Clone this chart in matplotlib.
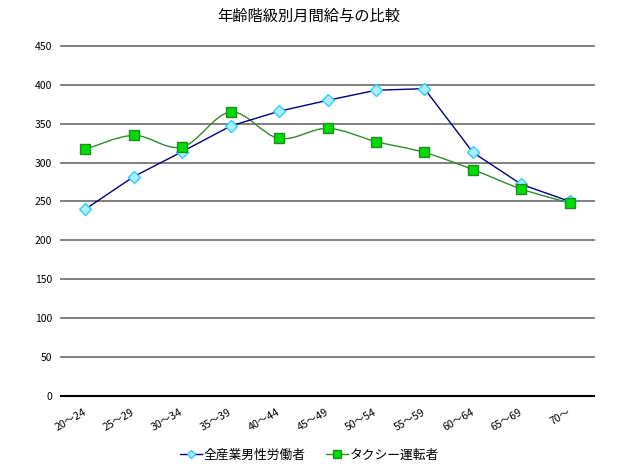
import numpy as np
import matplotlib
matplotlib.use("Agg")
import matplotlib.pyplot as plt
import matplotlib.transforms as mtransforms
from matplotlib.path import Path
from matplotlib.patches import PathPatch
from matplotlib.lines import Line2D

plt.rcParams['font.family'] = ['Noto Sans CJK JP', 'DejaVu Sans']

ages = ["20〜24", "25〜29", "30〜34", "35〜39", "40〜44", "45〜49",
        "50〜54", "55〜59", "60〜64", "65〜69", "70〜"]
allWorkers = [240, 282, 314, 347, 366, 380, 393, 395, 313, 272, 250]
taxiDrivers = [317, 335, 320, 365, 331, 344, 327, 313, 291, 266, 248]
seriesNames = ["全産業男性労働者", "タクシー運転者"]
yTicks = [0, 50, 100, 150, 200, 250, 300, 350, 400, 450]

blueLine = "#000080"
blueFace = "#aaf0ff"
blueEdge = "#33ccff"
greenLine = "#2e8b2e"
greenFace = "#00dd00"
greenEdge = "#228b22"


def smoothPath(xs, ys):
    # excel style smoothed line as cubic bezier segments
    pts = np.column_stack([xs, ys]).astype(float)
    n = len(pts)
    verts = [pts[0]]
    codes = [Path.MOVETO]
    for i in range(n - 1):
        p0 = pts[max(i - 1, 0)]
        p1 = pts[i]
        p2 = pts[i + 1]
        p3 = pts[min(i + 2, n - 1)]
        c1 = p1 + (p2 - p0) / 6.0
        c2 = p2 - (p3 - p1) / 6.0
        verts += [c1, c2, p2]
        codes += [Path.CURVE4] * 3
    return Path(verts, codes)


fig = plt.figure(figsize=(6.4, 4.7), dpi=100)
ax = fig.add_axes([0.0953, 0.1574, 0.833, 0.745])

x = np.arange(len(ages))
for t in yTicks[1:]:
    ax.axhline(t, color="#808080", lw=1.4, zorder=1, clip_on=False)
ax.axhline(0, color="black", lw=1.5, zorder=1, clip_on=False)

ax.plot(x, allWorkers, color=blueLine, lw=1, marker="D", ms=6.3,
        mfc=blueFace, mec=blueEdge, mew=1, zorder=3, clip_on=False)

ax.add_patch(PathPatch(smoothPath(x, taxiDrivers), facecolor="none",
                       edgecolor=greenLine, lw=1, zorder=2))
ax.plot(x, taxiDrivers, ls="none", marker="s", ms=6.6,
        mfc=greenFace, mec=greenEdge, mew=1, zorder=4, clip_on=False)

ax.set_xlim(-0.5, 10.5)
ax.set_ylim(0, 450)
ax.set_yticks(yTicks)
ax.set_xticks(x)
ax.set_xticklabels(ages, rotation=30, ha="right", va="center",
                   rotation_mode="anchor", fontsize=7.6)
shift = mtransforms.ScaledTranslation(-2 / 100, 0, fig.dpi_scale_trans)
for lab in ax.get_xticklabels():
    lab.set_transform(lab.get_transform() + shift)
ax.tick_params(axis="y", labelsize=7.5, length=0, pad=6.5)
ax.tick_params(axis="x", length=0, pad=11)
for s in ax.spines.values():
    s.set_visible(False)

fig.text(0.483, 0.965, "年齢階級別月間給与の比較", fontsize=11,
         ha="center", va="center")

handles = [
    Line2D([], [], color=blueLine, lw=1, marker="D", ms=4.5, mfc=blueFace, mec=blueEdge),
    Line2D([], [], color=greenLine, lw=1, marker="s", ms=5.5, mfc=greenFace, mec=greenEdge),
]
fig.legend(handles, seriesNames, loc="center", ncol=2, frameon=False,
           fontsize=9.2, handlelength=1.7, handletextpad=0.15, columnspacing=1.6,
           bbox_to_anchor=(0.484, 0.032))

fig.savefig("out.png", dpi=100)
